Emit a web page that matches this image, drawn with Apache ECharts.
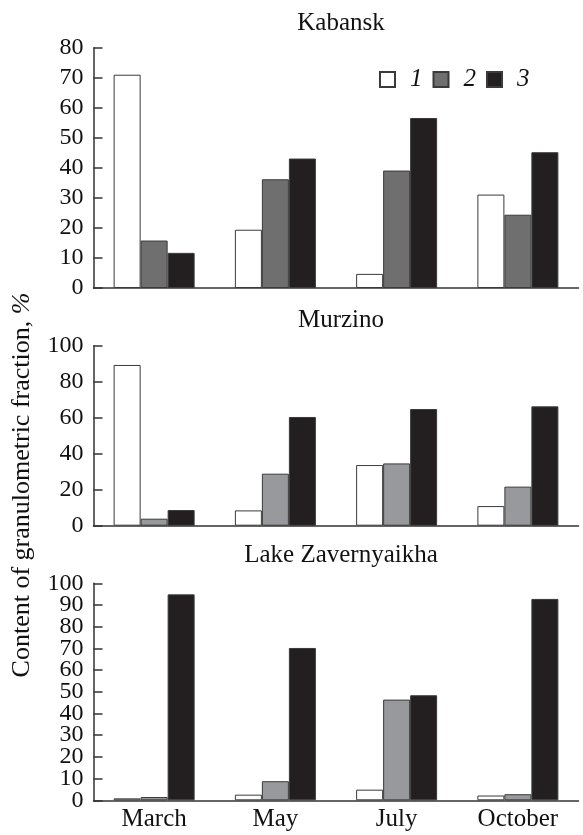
<!DOCTYPE html>
<html>
<head>
<meta charset="utf-8">
<script src="https://cdn.jsdelivr.net/npm/echarts@6/dist/echarts.min.js"></script>
<style>
  html, body { margin: 0; padding: 0; background: #fff; }
  #main { width: 583px; height: 835px; }
</style>
</head>
<body>
<div id="main"></div>
<script>
// months on the x axis
var months = ['March', 'May', 'July', 'October'];
var seriesNames = ['1', '2', '3'];

// Kabansk
var kabansk1 = [71, 19.4, 4.7, 31.1];
var kabansk2 = [15.8, 36.2, 39.1, 24.4];
var kabansk3 = [11.7, 43.1, 56.6, 45.2];

// Murzino
var murzino1 = [89.3, 8.5, 33.7, 10.9];
var murzino2 = [3.9, 28.9, 34.6, 21.7];
var murzino3 = [8.7, 60.4, 64.8, 66.3];

// Lake Zavernyaikha
var lake1 = [0.9, 2.6, 4.9, 2.2];
var lake2 = [1.5, 8.8, 46.4, 2.8];
var lake3 = [94.9, 70.2, 48.4, 92.8];

var panelTitles = ['Kabansk', 'Murzino', 'Lake Zavernyaikha'];
var yMax = [80, 100, 100];
var yStep = [10, 20, 10];

var font = '"Liberation Serif", "Times New Roman", serif';
var axisCol = '#333';

var myChart = echarts.init(document.getElementById('main'));

var grids = [
    {left: 93.5, right: 4.5, top: 47.7, height: 240.3},
    {left: 93.5, right: 4.5, top: 345.7, height: 180},
    {left: 93.5, right: 4.5, top: 583.3, height: 217}
];

var xAxes = [], yAxes = [], series = [];
var panelData = [
    [kabansk1, kabansk2, kabansk3],
    [murzino1, murzino2, murzino3],
    [lake1, lake2, lake3]
];
var fills = [
    ['#ffffff', '#6f6f6f', '#231f20'],
    ['#ffffff', '#98999c', '#231f20'],
    ['#ffffff', '#98999c', '#231f20']
];

var labelBase = {
    color: '#111', fontFamily: font, fontSize: 24, margin: 10,
    showMinLabel: true, showMaxLabel: true, hideOverlap: false
};

for (let p = 0; p < 3; p++) {
    xAxes.push({
        type: 'category',
        gridIndex: p,
        data: months,
        boundaryGap: true,
        axisLine: {lineStyle: {color: axisCol, width: 1.5}},
        axisTick: {
            inside: true, length: 10,
            lineStyle: {color: axisCol, width: 1.5},
            interval: function (i) { return i > 0 && i < 4; }
        },
        axisLabel: {
            show: p == 2, color: '#111', fontFamily: font, fontSize: 25, margin: 7
        }
    });
    // the bottom panel has crowded labels: even tens on this axis, odd tens on a twin axis
    let fmt = p == 2 ? function (v) { return (v / 10) % 2 == 0 ? String(v) : ''; } : '{value}';
    yAxes.push({
        type: 'value',
        gridIndex: p,
        min: 0, max: yMax[p], interval: yStep[p],
        splitLine: {show: false},
        axisLine: {show: true, lineStyle: {color: axisCol, width: 1.5}},
        axisTick: {show: true, inside: true, length: 9, lineStyle: {color: axisCol, width: 1.5}},
        axisLabel: Object.assign({formatter: fmt}, labelBase)
    });
    for (let s = 0; s < 3; s++) {
        series.push({
            name: seriesNames[s],
            type: 'bar',
            xAxisIndex: p,
            yAxisIndex: p,
            data: panelData[p][s],
            barWidth: 27,
            barGap: '0%',
            itemStyle: {color: fills[p][s], borderColor: '#3a3a3a', borderWidth: 1},
            emphasis: {disabled: true}
        });
    }
}
yAxes.push({
    type: 'value',
    gridIndex: 2,
    position: 'left',
    min: 0, max: yMax[2], interval: yStep[2],
    splitLine: {show: false},
    axisLine: {show: false},
    axisTick: {show: false},
    axisLabel: Object.assign({
        formatter: function (v) { return (v / 10) % 2 == 1 ? String(v) : ''; }
    }, labelBase)
});

var option = {
    animation: false,
    title: panelTitles.map(function (t, i) {
        return {
            text: t,
            left: 336,
            textAlign: 'center',
            top: [6, 303, 538][i],
            textStyle: {fontFamily: font, fontSize: 25, fontWeight: 'normal', color: '#111'}
        };
    }),
    legend: {
        data: seriesNames,
        left: 374,
        top: 62,
        itemWidth: 15,
        itemHeight: 15,
        itemGap: 10,
        icon: 'rect',
        textStyle: {fontFamily: font, fontSize: 25, fontStyle: 'italic', color: '#111', padding: [0, 0, 0, 10]}
    },
    grid: grids,
    xAxis: xAxes,
    yAxis: yAxes,
    series: series,
    graphic: [{
        type: 'text',
        x: 22,
        y: 485,
        rotation: Math.PI / 2,
        style: {
            text: 'Content of granulometric fraction, {i|%}',
            font: '26px ' + font,
            fill: '#111',
            align: 'center',
            verticalAlign: 'middle',
            rich: {i: {fontStyle: 'italic', fontFamily: font, fontSize: 26}}
        }
    }]
};

myChart.setOption(option);
</script>
</body>
</html>
